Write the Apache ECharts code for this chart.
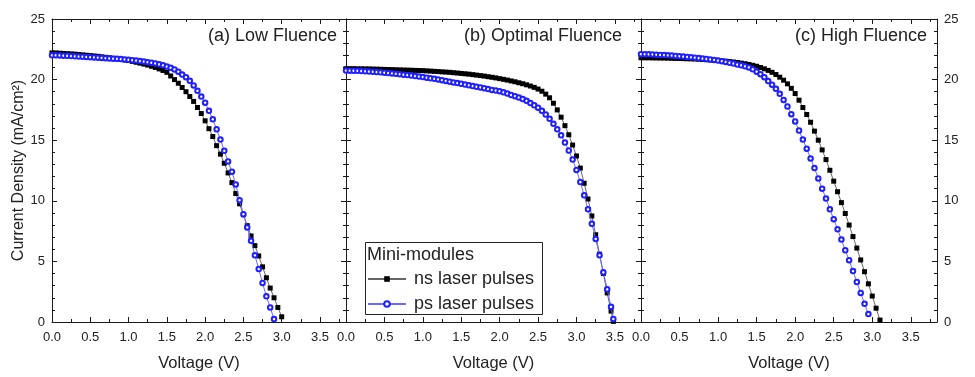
<!DOCTYPE html>
<html>
<head>
<meta charset="utf-8">
<script src="https://cdn.jsdelivr.net/npm/echarts@6/dist/echarts.min.js"></script>
<style>
  html, body { margin: 0; padding: 0; background: #fff; }
  #chart { width: 975px; height: 377px; }
</style>
</head>
<body>
<div id="chart"></div>
<script>
// voltage grids (V)
var voltA = [0.00,0.05,0.10,0.15,0.20,0.25,0.30,0.35,0.40,0.45,
	0.50,0.55,0.60,0.65,0.70,0.75,0.80,0.85,0.90,0.95,
	1.00,1.05,1.10,1.15,1.20,1.25,1.30,1.35,1.40,1.45,
	1.50,1.55,1.60,1.65,1.70,1.75,1.80,1.85,1.90,1.95,
	2.00,2.05,2.10,2.15,2.20,2.25,2.30,2.35,2.40,2.45,
	2.50,2.55,2.60,2.65,2.70,2.75,2.80,2.85,2.90,2.95,
	3.00];
var voltB = [0.00,0.05,0.10,0.15,0.20,0.25,0.30,0.35,0.40,0.45,
	0.50,0.55,0.60,0.65,0.70,0.75,0.80,0.85,0.90,0.95,
	1.00,1.05,1.10,1.15,1.20,1.25,1.30,1.35,1.40,1.45,
	1.50,1.55,1.60,1.65,1.70,1.75,1.80,1.85,1.90,1.95,
	2.00,2.05,2.10,2.15,2.20,2.25,2.30,2.35,2.40,2.45,
	2.50,2.55,2.60,2.65,2.70,2.75,2.80,2.85,2.90,2.95,
	3.00,3.05,3.10,3.15,3.20,3.25,3.30,3.35,3.40,3.45,
	3.48];
var voltC = [0.00,0.05,0.10,0.15,0.20,0.25,0.30,0.35,0.40,0.45,
	0.50,0.55,0.60,0.65,0.70,0.75,0.80,0.85,0.90,0.95,
	1.00,1.05,1.10,1.15,1.20,1.25,1.30,1.35,1.40,1.45,
	1.50,1.55,1.60,1.65,1.70,1.75,1.80,1.85,1.90,1.95,
	2.00,2.05,2.10,2.15,2.20,2.25,2.30,2.35,2.40,2.45,
	2.50,2.55,2.60,2.65,2.70,2.75,2.80,2.85,2.90,2.95,
	3.00,3.05,3.10];

// current density (mA/cm2), (a) low fluence
var nsLow = [22.2,22.2,22.18,22.16,22.14,22.12,22.1,22.07,22.04,22.01,
	21.98,21.95,21.92,21.88,21.84,21.8,21.76,21.72,21.67,21.62,
	21.57,21.5,21.43,21.36,21.28,21.2,21.1,21.0,20.88,20.75,
	20.6,20.3,20.0,19.7,19.35,19.0,18.6,18.2,17.7,17.2,
	16.6,15.95,15.3,14.55,13.85,13.1,12.3,11.5,10.6,9.75,
	8.85,7.95,7.1,6.3,5.45,4.55,3.65,2.8,2.0,1.2,
	0.43];
var psLow = [22.0,22.0,21.99,21.97,21.96,21.94,21.92,21.9,21.89,21.87,
	21.85,21.83,21.81,21.79,21.77,21.75,21.73,21.71,21.69,21.66,
	21.63,21.6,21.57,21.53,21.49,21.44,21.39,21.33,21.26,21.18,
	21.08,20.97,20.84,20.65,20.42,20.2,19.9,19.52,19.07,18.6,
	18.1,17.42,16.72,15.9,15.05,14.12,13.25,12.4,11.35,10.05,
	8.9,7.8,6.7,5.5,4.37,3.22,2.12,1.2,0.24];

// (b) optimal fluence
var nsOpt = [20.9,20.9,20.9,20.89,20.89,20.88,20.88,20.87,20.86,20.85,
	20.84,20.83,20.82,20.81,20.8,20.79,20.78,20.77,20.76,20.75,
	20.74,20.72,20.7,20.68,20.66,20.64,20.62,20.6,20.57,20.54,
	20.51,20.48,20.45,20.41,20.37,20.33,20.29,20.24,20.19,20.14,
	20.08,20.02,19.96,19.89,19.82,19.74,19.66,19.57,19.47,19.36,
	19.22,19.04,18.8,18.5,18.05,17.5,16.9,16.2,15.45,14.6,
	13.7,12.7,11.45,10.15,8.75,7.2,5.6,4.0,2.4,0.9,
	0.05];
var psOpt = [20.75,20.74,20.73,20.72,20.7,20.68,20.66,20.64,20.62,20.6,
	20.57,20.54,20.51,20.48,20.45,20.41,20.37,20.33,20.29,20.25,
	20.21,20.16,20.11,20.06,20.01,19.95,19.89,19.83,19.77,19.71,
	19.65,19.59,19.53,19.47,19.41,19.35,19.29,19.22,19.15,19.1,
	19.04,18.95,18.85,18.73,18.63,18.52,18.4,18.25,18.06,17.88,
	17.68,17.42,17.12,16.76,16.35,15.9,15.4,14.8,14.15,13.4,
	12.55,11.55,10.45,9.3,8.1,6.85,5.5,4.1,2.7,1.25,
	0.25];

// (c) high fluence
var nsHigh = [21.8,21.8,21.8,21.79,21.79,21.78,21.78,21.77,21.76,21.75,
	21.74,21.73,21.72,21.71,21.7,21.68,21.66,21.64,21.62,21.6,
	21.58,21.55,21.52,21.49,21.45,21.41,21.36,21.31,21.25,21.18,
	21.1,21.0,20.89,20.76,20.6,20.42,20.2,19.95,19.65,19.28,
	18.85,18.3,17.7,17.12,16.48,15.75,15.0,14.2,13.4,12.52,
	11.62,10.75,9.85,8.95,8.0,7.05,6.1,5.12,4.15,3.15,
	2.14,1.14,0.16];
var psHigh = [22.1,22.1,22.09,22.08,22.06,22.04,22.02,22.0,21.98,21.95,
	21.93,21.9,21.87,21.84,21.81,21.78,21.74,21.7,21.66,21.62,
	21.57,21.52,21.46,21.39,21.32,21.24,21.18,21.1,21.0,20.85,
	20.65,20.45,20.2,19.88,19.58,19.24,18.83,18.32,17.78,17.15,
	16.55,15.8,15.05,14.3,13.5,12.7,11.85,11.0,10.18,9.3,
	8.48,7.65,6.8,5.92,5.1,4.2,3.3,2.4,1.5,0.65];

var panelTitles = ['(a) Low Fluence', '(b) Optimal Fluence', '(c) High Fluence'];
var seriesNames = ['ns laser pulses', 'ps laser pulses'];
var legendTitle = 'Mini-modules';

var panels = [
	{volt: voltA, ns: nsLow, ps: psLow},
	{volt: voltB, ns: nsOpt, ps: psOpt},
	{volt: voltC, ns: nsHigh, ps: psHigh}
];

var FONT = '"Liberation Sans", Arial, sans-serif';
var AXIS_COLOR = '#1a1a1a';
var LABEL_COLOR = '#222';
var gridLeft = [52, 346, 641];
var gridWidth = [294, 295, 296];
var titleRight = [638, 353, 48];

var toPairs = function(volt, cur){
	var out = [];
	for( var i = 0; i < cur.length; i++ ){
		out.push( [volt[i], cur[i]] );
	}
	return out;
};

// common frame axis: line + inward ticks
var frameAxis = function(extra){
	var base = {
		axisLine: {show: true, onZero: false, lineStyle: {color: AXIS_COLOR, width: 1}},
		axisTick: {show: true, inside: true, length: 5, lineStyle: {color: AXIS_COLOR, width: 1}},
		splitLine: {show: false},
		axisLabel: {show: false}
	};
	for( var k in extra ){
		base[k] = extra[k];
	}
	return base;
};

var xLabel = {
	show: true, margin: 9, color: LABEL_COLOR, fontFamily: FONT, fontSize: 13,
	showMaxLabel: false,
	formatter: function(v){
		return Math.abs( v * 2 - Math.round( v * 2 ) ) < 1e-6 ? v.toFixed( 1 ) : '';
	}
};
var yLabel = {show: true, margin: 7, color: LABEL_COLOR, fontFamily: FONT, fontSize: 13};

var grid = [], xAxis = [], yAxis = [], series = [], title = [];

for( var p = 0; p < 3; p++ ){
	grid.push( {left: gridLeft[p], top: 19, width: gridWidth[p], height: 309} );

	xAxis.push( frameAxis( {
		gridIndex: p, type: 'value', position: 'bottom', min: 0, max: 3.84, interval: 0.5,
		minorTick: {show: true, splitNumber: 2, length: 3, lineStyle: {color: AXIS_COLOR, width: 1}},
		axisLabel: xLabel,
		name: 'Voltage (V)', nameLocation: 'middle', nameGap: 33,
		nameTextStyle: {color: LABEL_COLOR, fontFamily: FONT, fontSize: 16.5}
	} ) );
	xAxis.push( frameAxis( {
		gridIndex: p, type: 'value', position: 'top', min: 0, max: 3.84, interval: 0.5,
		minorTick: {show: true, splitNumber: 2, length: 3, lineStyle: {color: AXIS_COLOR, width: 1}}
	} ) );

	var leftY = {
		gridIndex: p, type: 'value', position: 'left', min: 0, max: 25, interval: 5,
		minorTick: {show: true, splitNumber: 5, length: 3, lineStyle: {color: AXIS_COLOR, width: 1}}
	};
	if( p == 0 ){
		leftY.axisLabel = yLabel;
		leftY.name = 'Current Density (mA/cm²)';
		leftY.nameLocation = 'middle';
		leftY.nameGap = 24;
		leftY.nameTextStyle = {color: LABEL_COLOR, fontFamily: FONT, fontSize: 16};
	}
	yAxis.push( frameAxis( leftY ) );

	var rightY = {
		gridIndex: p, type: 'value', position: 'right', min: 0, max: 25, interval: 5,
		minorTick: {show: true, splitNumber: 5, length: 3, lineStyle: {color: AXIS_COLOR, width: 1}}
	};
	if( p == 2 ){
		rightY.axisLabel = yLabel;
	}
	yAxis.push( frameAxis( rightY ) );

	series.push( {
		name: seriesNames[0], type: 'line',
		xAxisIndex: p * 2, yAxisIndex: p * 2,
		data: toPairs( panels[p].volt, panels[p].ns ),
		symbol: 'rect', symbolSize: 5,
		itemStyle: {color: '#000'},
		lineStyle: {color: '#666', width: 1},
		z: 2
	} );
	series.push( {
		name: seriesNames[1], type: 'line',
		xAxisIndex: p * 2, yAxisIndex: p * 2,
		data: toPairs( panels[p].volt, panels[p].ps ),
		symbol: 'emptyCircle', symbolSize: 4.5,
		itemStyle: {color: '#1f1fff', borderWidth: 1.3},
		lineStyle: {color: '#6a6aff', width: 1},
		z: 3
	} );

	title.push( {
		text: panelTitles[p], right: titleRight[p], top: 27, padding: 0,
		textStyle: {color: LABEL_COLOR, fontFamily: FONT, fontSize: 18, fontWeight: 'normal'}
	} );
}

var chart = echarts.init( document.getElementById( 'chart' ), null, {renderer: 'canvas'} );
chart.setOption( {
	animation: false,
	backgroundColor: '#fff',
	title: title,
	grid: grid,
	xAxis: xAxis,
	yAxis: yAxis,
	series: series,
	legend: {
		data: seriesNames,
		orient: 'vertical',
		left: 367, top: 270,
		padding: 0,
		itemWidth: 38, itemHeight: 7, itemGap: 7,
		textStyle: {color: LABEL_COLOR, fontFamily: FONT, fontSize: 18, padding: [0, 0, 0, 3]}
	},
	graphic: [
		{
			type: 'rect', left: 363, top: 240,
			shape: {width: 177, height: 72},
			style: {fill: 'none', stroke: '#222', lineWidth: 1},
			z: 10
		},
		{
			type: 'text', left: 367, top: 246,
			style: {text: legendTitle, fill: LABEL_COLOR, font: '18px ' + FONT},
			z: 10
		}
	]
} );
</script>
</body>
</html>
